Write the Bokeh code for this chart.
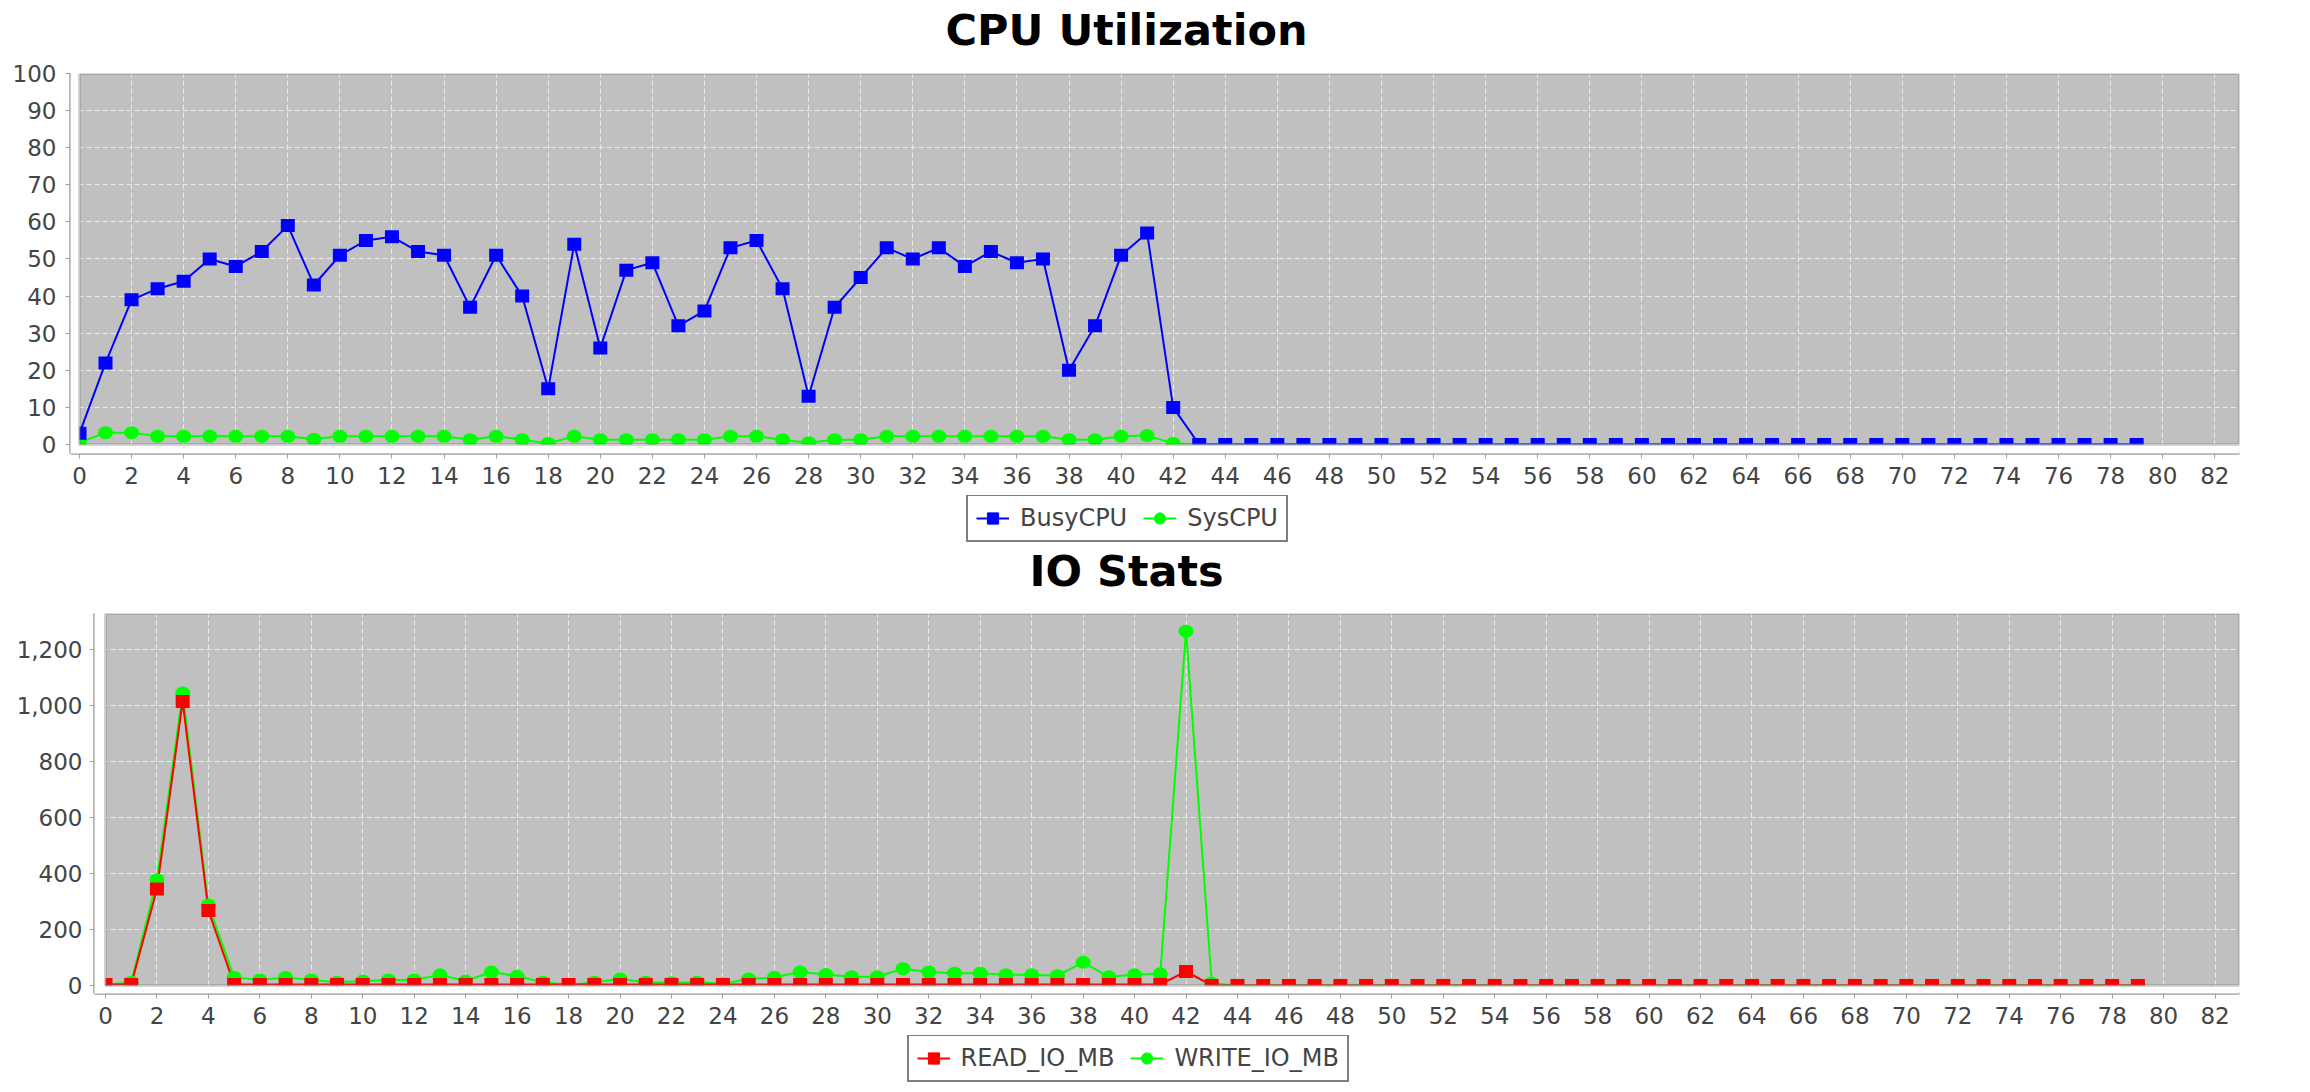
from bokeh.plotting import figure
from bokeh.models import (LinearAxis, SingleIntervalTicker, Range1d, BoxAnnotation,
                          Legend, LegendItem, NumeralTickFormatter, ColumnDataSource, Label)
from bokeh.layouts import column
from bokeh.embed import file_html
from bokeh.resources import INLINE

# ---------------- data ----------------
sample = [0, 1, 2, 3, 4, 5, 6, 7, 8, 9,
          10, 11, 12, 13, 14, 15, 16, 17, 18, 19,
          20, 21, 22, 23, 24, 25, 26, 27, 28, 29,
          30, 31, 32, 33, 34, 35, 36, 37, 38, 39,
          40, 41, 42, 43, 44, 45, 46, 47, 48, 49,
          50, 51, 52, 53, 54, 55, 56, 57, 58, 59,
          60, 61, 62, 63, 64, 65, 66, 67, 68, 69,
          70, 71, 72, 73, 74, 75, 76, 77, 78, 79]

busy_cpu = [3, 22, 39, 42, 44, 50, 48, 52, 59, 43,
            51, 55, 56, 52, 51, 37, 51, 40, 15, 54,
            26, 47, 49, 32, 36, 53, 55, 42, 13, 37,
            45, 53, 50, 53, 48, 52, 49, 50, 20, 32,
            51, 57, 10, 0, 0, 0, 0, 0, 0, 0,
            0, 0, 0, 0, 0, 0, 0, 0, 0, 0,
            0, 0, 0, 0, 0, 0, 0, 0, 0, 0,
            0, 0, 0, 0, 0, 0, 0, 0, 0, 0]

sys_cpu = [0.5, 3.2, 3.2, 2.2, 2.2, 2.2, 2.2, 2.2, 2.2, 1.4,
           2.2, 2.2, 2.2, 2.2, 2.2, 1.3, 2.2, 1.3, 0.3, 2.2,
           1.3, 1.3, 1.3, 1.3, 1.3, 2.2, 2.2, 1.3, 0.5, 1.3,
           1.3, 2.2, 2.2, 2.2, 2.2, 2.2, 2.2, 2.2, 1.3, 1.3,
           2.2, 2.4, 0.3, 0, 0, 0, 0, 0, 0, 0,
           0, 0, 0, 0, 0, 0, 0, 0, 0, 0,
           0, 0, 0, 0, 0, 0, 0, 0, 0, 0,
           0, 0, 0, 0, 0, 0, 0, 0, 0, 0]

read_io_mb = [4, 4, 345, 1015, 268, 4, 4, 4, 4, 4,
              4, 4, 4, 4, 4, 4, 4, 4, 4, 4,
              4, 4, 4, 4, 4, 4, 4, 4, 4, 4,
              4, 4, 4, 4, 4, 4, 4, 4, 4, 4,
              4, 4, 50, 0, 0, 0, 0, 0, 0, 0,
              0, 0, 0, 0, 0, 0, 0, 0, 0, 0,
              0, 0, 0, 0, 0, 0, 0, 0, 0, 0,
              0, 0, 0, 0, 0, 0, 0, 0, 0, 0]

write_io_mb = [2, 12, 378, 1045, 288, 29, 20, 29, 20, 12,
               16, 20, 20, 38, 16, 48, 33, 12, 2, 12,
               23, 12, 10, 12, 6, 23, 29, 48, 39, 31,
               31, 60, 48, 44, 44, 38, 38, 35, 83, 31,
               38, 42, 1266, 8, 0, 0, 0, 0, 0, 0,
               0, 0, 0, 0, 0, 0, 0, 0, 0, 0,
               0, 0, 0, 0, 0, 0, 0, 0, 0, 0,
               0, 0, 0, 0, 0, 0, 0, 0, 0, 0]

chart_titles = ["CPU Utilization", "IO Stats"]
cpu_labels = ["BusyCPU", "SysCPU"]
io_labels = ["READ_IO_MB", "WRITE_IO_MB"]

# ---------------- styling helpers ----------------
FIG_W = 2250
CX = 1126            # horizontal centre of titles / legends
FONT = "DejaVu Sans"
BLUE, GREEN, RED = "#0000ff", "#00ff00", "#ff0000"
NAN = float("nan")


def blank_strip(height):
    p = figure(width=FIG_W, height=height, output_backend="svg", toolbar_location=None,
               x_axis_location=None, y_axis_location=None, min_border=0,
               min_border_left=0, min_border_right=0, min_border_top=0, min_border_bottom=0,
               outline_line_color=None, background_fill_color="white",
               border_fill_color="white", frame_align=False)
    p.grid.visible = False
    return p


def title_strip(text, height, y_anchor):
    p = blank_strip(height)
    p.add_layout(Label(x=CX, y=y_anchor, x_units="screen", y_units="screen",
                       text=text, text_align="center", text_baseline="alphabetic",
                       text_font=FONT, text_font_style="bold", text_font_size="43px",
                       text_color="black"))
    return p


def legend_strip(labels, c1, height, legend_w, y_bottom):
    p = blank_strip(height)
    # legend keys only: a single NaN point, so nothing is drawn in the strip itself
    l1 = p.line(x=[NAN], y=[NAN], line_color=c1, line_width=2)
    k1 = p.scatter(x=[NAN], y=[NAN], marker="square", fill_color=c1, line_color=c1)
    l2 = p.line(x=[NAN], y=[NAN], line_color=GREEN, line_width=2)
    k2 = p.scatter(x=[NAN], y=[NAN], marker="circle", fill_color=GREEN, line_color=GREEN)
    legend = Legend(items=[LegendItem(label=labels[0], renderers=[l1, k1]),
                           LegendItem(label=labels[1], renderers=[l2, k2])],
                    orientation="horizontal",
                    location=(CX - legend_w / 2, y_bottom),
                    border_line_color="black", border_line_width=2,
                    background_fill_color="white", background_fill_alpha=1.0,
                    padding=8, spacing=16, margin=0,
                    glyph_width=33, glyph_height=28, label_standoff=11,
                    label_text_font=FONT, label_text_font_size="24px",
                    label_text_color="#444444")
    p.add_layout(legend, "center")
    return p


def style_axis(ax, standoff):
    ax.axis_line_color = "#b4b4b4"
    ax.axis_line_width = 3
    ax.major_tick_line_color = "#a0a0a0"
    ax.major_tick_line_width = 1
    ax.major_tick_out = 5
    ax.major_tick_in = 0
    ax.minor_tick_line_color = None
    ax.minor_tick_out = 0
    ax.major_label_text_font = FONT
    ax.major_label_text_font_size = "23px"
    ax.major_label_text_color = "#444444"
    ax.major_label_standoff = standoff


def chart(s1, s2, c1, height, left, top, bottom, x_start, y_start, y_end, y_step,
          y_standoff, formatter=None):
    p = figure(width=FIG_W, height=height,
               x_range=Range1d(x_start, 82.95), y_range=Range1d(y_start, y_end),
               output_backend="svg", toolbar_location=None,
               min_border_left=left, min_border_right=FIG_W - 2239,
               min_border_top=top, min_border_bottom=bottom,
               background_fill_color="white", border_fill_color="white",
               outline_line_color=None, frame_align=False,
               x_axis_location=None, y_axis_location=None)

    xax = LinearAxis(ticker=SingleIntervalTicker(interval=2, num_minor_ticks=0))
    style_axis(xax, 8)
    yax = LinearAxis(ticker=SingleIntervalTicker(interval=y_step, num_minor_ticks=0))
    style_axis(yax, y_standoff)
    if formatter is not None:
        yax.formatter = formatter
    p.add_layout(xax, "below")
    p.add_layout(yax, "left")

    # grey data area (starts at 0/0, leaving a white gap next to the axes)
    p.add_layout(BoxAnnotation(left=0, bottom=0, fill_color="#c0c0c0", fill_alpha=1.0,
                               line_color=None, level="image"))

    p.xgrid.ticker = SingleIntervalTicker(interval=2, num_minor_ticks=0)
    p.ygrid.ticker = SingleIntervalTicker(interval=y_step, num_minor_ticks=0)
    p.grid.grid_line_color = "#ececec"
    p.grid.grid_line_width = 1
    p.grid.grid_line_dash = "5 3"

    src = ColumnDataSource(dict(t=sample, a=s1, b=s2))
    # second series beneath, first series on top
    p.line("t", "b", source=src, line_color=GREEN, line_width=2)
    p.line("t", "a", source=src, line_color=c1, line_width=2)
    p.ellipse("t", "b", source=src, width=15, height=13, width_units="screen",
              height_units="screen", fill_color=GREEN, line_color=None)
    p.rect("t", "a", source=src, width=14, height=13, width_units="screen",
           height_units="screen", fill_color=c1, line_color=None)

    # white masks over the gap between axes and data area, then the area outline
    p.add_layout(BoxAnnotation(right=0, fill_color="white", fill_alpha=1.0,
                               line_color=None, level="overlay"))
    p.add_layout(BoxAnnotation(top=0, fill_color="white", fill_alpha=1.0,
                               line_color=None, level="overlay"))
    p.add_layout(BoxAnnotation(left=0, bottom=0, fill_alpha=0.0, line_color="#6e6e6e",
                               line_width=3, level="overlay"))
    return p


t1 = title_strip(chart_titles[0], 55, 26)
c1 = chart(busy_cpu, sys_cpu, BLUE, height=440, left=70, top=18, bottom=42,
           x_start=-0.3455, y_start=-2.426, y_end=100, y_step=10, y_standoff=9)
g1 = legend_strip(cpu_labels, BLUE, 48, 320, 1)

t2 = title_strip(chart_titles[1], 55, 28)
c2 = chart(read_io_mb, write_io_mb, RED, height=437, left=94, top=15, bottom=42,
           x_start=-0.4275, y_start=-28.6, y_end=1329, y_step=200, y_standoff=7,
           formatter=NumeralTickFormatter(format="0,0"))
g2 = legend_strip(io_labels, RED, 57, 439, 10)

layout = column(t1, c1, g1, t2, c2, g2, spacing=0)
open("out.html", "w").write(file_html(layout, INLINE))
